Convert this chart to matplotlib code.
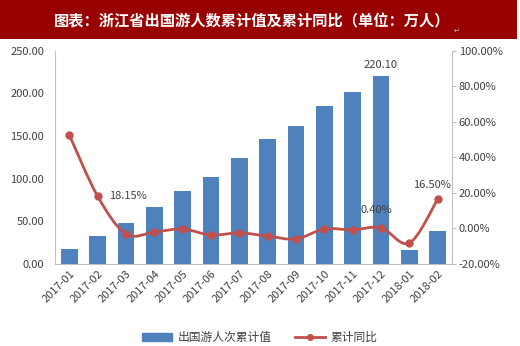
import numpy as np
import matplotlib.pyplot as plt
from matplotlib.path import Path
from matplotlib.patches import PathPatch, Rectangle
from matplotlib.lines import Line2D

plt.rcParams['font.family'] = ['Noto Sans CJK SC', 'DejaVu Sans']

months = ["2017-01", "2017-02", "2017-03", "2017-04", "2017-05", "2017-06", "2017-07",
          "2017-08", "2017-09", "2017-10", "2017-11", "2017-12", "2018-01", "2018-02"]
totals = [17.6, 32.9, 48.1, 66.9, 85.7, 102.0, 124.4, 146.7, 162.0, 185.4, 202.2, 220.10, 16.4, 39.1]
yoy = [52.7, 18.15, -3.1, -2.0, -0.3, -3.7, -2.5, -4.3, -5.9, -0.3, -0.8, 0.40, -8.2, 16.50]
bar_name = "出国游人次累计值"
line_name = "累计同比"
title = "图表：浙江省出国游人数累计值及累计同比（单位：万人）"

bar_c = "#4F81BD"
line_c = "#C0504D"
txt_c = "#404040"


def smooth_path(x, y, t=1/6):
    # cubic bezier through points (catmull-rom style, like excel smoothed line)
    pts = np.column_stack([x, y]).astype(float)
    verts = [pts[0]]
    codes = [Path.MOVETO]
    n = len(pts)
    for i in range(n - 1):
        p0 = pts[max(i - 1, 0)]
        p1 = pts[i]
        p2 = pts[i + 1]
        p3 = pts[min(i + 2, n - 1)]
        c1 = p1 + (p2 - p0) * t
        c2 = p2 - (p3 - p1) * t
        verts += [c1, c2, p2]
        codes += [Path.CURVE4] * 3
    return Path(verts, codes)


def main():
    fig = plt.figure(figsize=(5.2, 3.46), dpi=100)
    fig.patches.append(Rectangle((0, 0.887), 0.995, 0.113, transform=fig.transFigure,
                                 facecolor="#990000", edgecolor="none", zorder=0))
    fig.text(0.485, 0.938, title, color="white", fontsize=11, fontweight="bold",
             ha="center", va="center")
    fig.text(0.872, 0.912, "↵", color="#bbbbbb", fontsize=5, ha="left", va="center",
             family=['DejaVu Sans'])

    ax = fig.add_axes([0.106, 0.237, 0.763, 0.616])
    x = np.arange(len(months))
    ax.bar(x, totals, width=0.59, color=bar_c, zorder=2)
    ax.set_ylim(0, 250)
    ax.set_yticks(np.arange(0, 251, 50))
    ax.set_yticklabels(["%.2f" % v for v in np.arange(0, 251, 50)])
    ax.set_xlim(-0.5, len(months) - 0.5)
    ax.set_xticks(x)
    ax.set_xticklabels(months, rotation=45, ha="right", rotation_mode="anchor")
    ax.tick_params(axis="both", colors=txt_c, labelsize=8, length=0)
    ax.tick_params(axis="y", pad=8)
    ax.tick_params(axis="x", pad=3)
    for s in ["top", "right"]:
        ax.spines[s].set_visible(False)
    for s in ["left", "bottom"]:
        ax.spines[s].set_color("#BFBFBF")
    ax.text(11, totals[11] + 7, "%.2f" % totals[11], ha="center", va="bottom",
            fontsize=8, color=txt_c)

    ax2 = ax.twinx()
    ax2.set_ylim(-20, 100)
    ax2.set_yticks(np.arange(-20, 101, 20))
    ax2.set_yticklabels(["%.2f%%" % v for v in np.arange(-20, 101, 20)])
    ax2.tick_params(axis="y", colors=txt_c, labelsize=8, length=3, pad=2)
    ax2.tick_params(axis="y", color="#BFBFBF")
    for s in ["top", "left", "bottom"]:
        ax2.spines[s].set_visible(False)
    ax2.spines["right"].set_color("#BFBFBF")
    ax2.add_patch(PathPatch(smooth_path(x, yoy), facecolor="none", edgecolor=line_c,
                            lw=2, zorder=3))
    ax2.plot(x, yoy, "o", color=line_c, markersize=5, zorder=4)
    ax2.text(1.4, yoy[1], "%.2f%%" % yoy[1], ha="left", va="center", fontsize=8, color=txt_c)
    ax2.text(10.85, yoy[11] + 7, "%.2f%%" % yoy[11], ha="center", va="bottom",
             fontsize=8, color=txt_c)
    ax2.text(12.8, yoy[13] + 5, "%.2f%%" % yoy[13], ha="center", va="bottom",
             fontsize=8, color=txt_c)

    handles = [Rectangle((0, 0), 1, 1, color=bar_c),
               Line2D([0], [0], color=line_c, lw=2, marker="o", markersize=4)]
    fig.legend(handles, [bar_name, line_name], loc="center", bbox_to_anchor=(0.5, 0.025),
               ncol=2, frameon=False, fontsize=8.5, labelcolor=txt_c, handlelength=2.5,
               columnspacing=2, handletextpad=0.5)
    fig.savefig("out.png", dpi=100)


if __name__ == "__main__":
    main()
